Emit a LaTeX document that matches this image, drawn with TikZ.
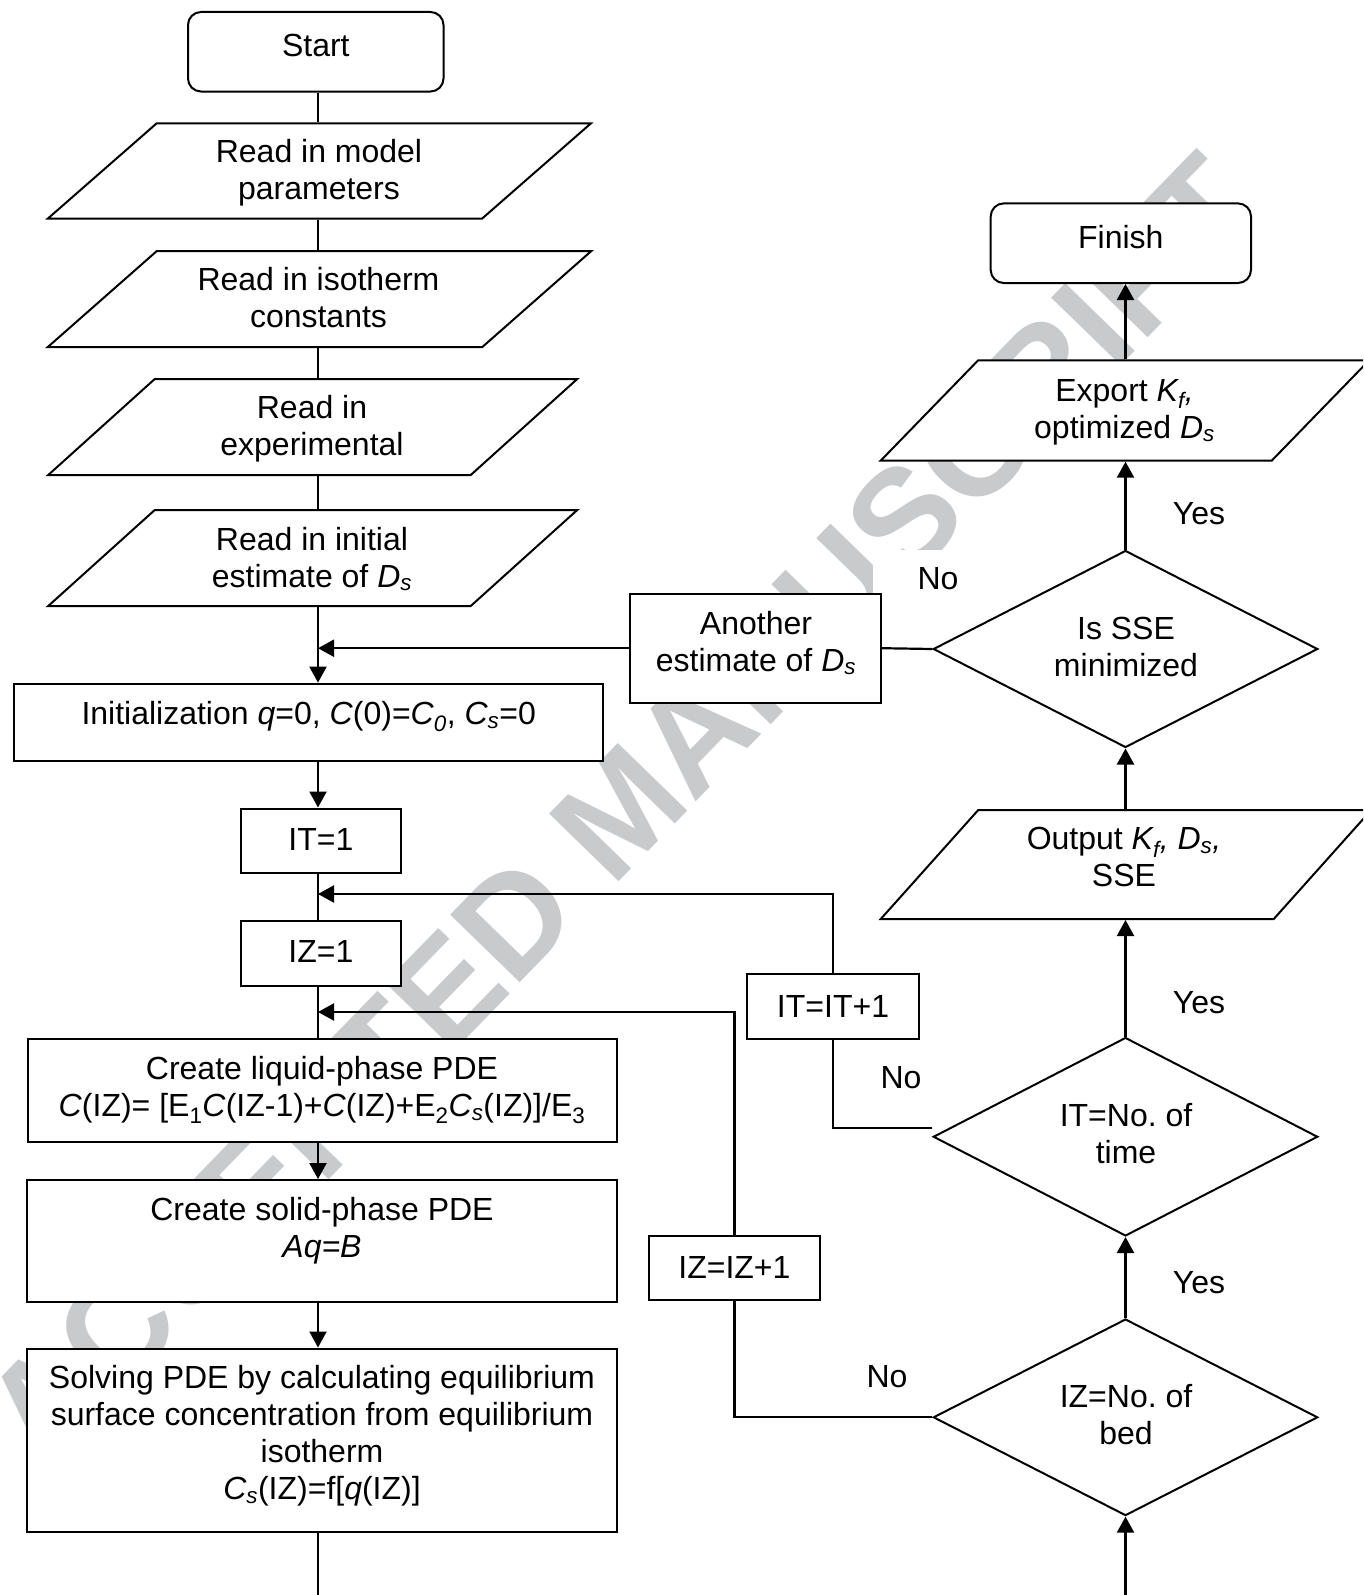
\documentclass[tikz,border=0pt]{standalone}
\usepackage{fontspec}
\setmainfont{Liberation Sans}
\usetikzlibrary{arrows.meta,shapes.geometric,calc}
\definecolor{wm}{RGB}{201,202,204}
\newcommand\paral[6]{%
  \draw[shp] ({#2-#4/2-#6/2},{#3+#5/2}) -- ({#2+#4/2-#6/2},{#3+#5/2}) -- ({#2+#4/2+#6/2},{#3-#5/2}) -- ({#2-#4/2+#6/2},{#3-#5/2}) -- cycle;
  \node[inner sep=0pt, outer sep=1pt, minimum width=10pt, minimum height=#5pt] (#1) at (#2,#3) {};
}
\begin{document}
\begin{tikzpicture}[x=1pt,y=-1pt,
  shp/.style={draw=black, line width=2pt, fill=white},
  boxs/.style={shp, rectangle, inner sep=0pt},
  rbox/.style={boxs, rounded corners=13pt},
  dia/.style={shp, diamond, inner sep=0pt},
  txt/.style={font=\fontsize{32}{37}\selectfont, align=center, inner sep=0pt},
  lbl/.style={txt, fill=white, inner sep=3pt},
  conn/.style={line width=2.2pt},
  arr/.style={conn, -{Triangle[length=16pt,width=17pt]}},
]
\useasboundingbox (0,0) rectangle (1363,1595);
\clip (0,0) rectangle (1363,1595);
\fill[white] (0,0) rectangle (1363,1595);

% watermark
\node[text=wm, font=\fontsize{141}{150}\selectfont\bfseries, rotate=45.8, inner sep=0pt] (wmark) at (621,810) {ACCEPTED MANUSCRIPT};

% labels (white boxes over the watermark)
\node[lbl] (yes1) at (1199,514) {Yes};
\node[lbl] (yes2) at (1199,1003) {Yes};
\node[lbl] (yes3) at (1199,1283) {Yes};
\node[lbl, minimum width=130pt, minimum height=58pt] (no1) at (938,579) {No};
\node[lbl] (no2) at (901,1078) {No};
\node[lbl] (no3) at (887,1377) {No};

% coordinates
\coordinate (cl) at (318,0);
\coordinate (bot) at (0,1605);
\coordinate (ity) at (0,894);
\coordinate (izy) at (0,1012);

% left column shapes
\node[rbox, minimum width=255.5pt, minimum height=79.5pt] (start) at (315.75,51.75) {};
\paral{p1}{319.35}{171}{434.3}{95.3}{108.9}
\paral{p2}{319.6}{299}{434.5}{96}{109}
\paral{p3}{312.75}{427}{422.5}{96}{106.5}
\paral{p4}{312.75}{558}{422.5}{96}{106.5}
\node[boxs, minimum width=589pt, minimum height=77.3pt] (init) at (308.7,722.25) {};
\node[boxs, minimum width=159.8pt, minimum height=64.2pt] (it1) at (320.9,840.6) {};
\node[boxs, minimum width=159.8pt, minimum height=64.2pt] (iz1) at (320.9,953.4) {};
\node[boxs, minimum width=589pt, minimum height=103.7pt] (liq) at (322.1,1090.45) {};
\node[boxs, minimum width=590pt, minimum height=122pt] (sol) at (322,1241) {};
\node[boxs, minimum width=590pt, minimum height=183.5pt] (slv) at (322,1440.25) {};

% middle shapes
\node[boxs, minimum width=251pt, minimum height=109pt] (another) at (755.7,648.2) {};
\node[boxs, minimum width=171.5pt, minimum height=64.2pt] (itp1) at (833,1006.5) {};
\node[boxs, minimum width=171.3pt, minimum height=64.3pt] (izp1) at (734.4,1267.9) {};

% right column shapes
\node[rbox, minimum width=260.3pt, minimum height=79.6pt] (finish) at (1120.85,243.2) {};
\paral{expo}{1124.9}{410.5}{391}{100.3}{97.4}
\node[dia, minimum width=384.5pt, minimum height=197pt] (ssed) at (1125.5,649) {};
\paral{outp}{1126}{864.5}{393}{109}{97.5}
\node[dia, minimum width=384.5pt, minimum height=198.5pt] (itd) at (1125.5,1136.75) {};
\node[dia, minimum width=384.5pt, minimum height=196.6pt] (izd) at (1125.5,1417.3) {};

% texts
\node[txt] (startT) at (315.8,45) {Start};
\node[txt] (p1T) at (319,173) {Read in model\\parameters};
\node[txt] (p2T) at (318.5,298) {Read in isotherm\\constants};
\node[txt] (p3T) at (312,429) {Read in\\experimental};
\node[txt] (p4T) at (312,559) {Read in initial\\estimate of \textit{D\textsubscript{s}}};
\node[txt] (initT) at (308.7,716.5) {Initialization \textit{q}=0, \textit{C}(0)=\textit{C\textsubscript{0}}, \textit{C\textsubscript{s}}=0};
\node[txt] (it1T) at (320.9,839.5) {IT=1};
\node[txt] (iz1T) at (320.9,951.5) {IZ=1};
\node[txt] (liqT) at (322,1090) {Create liquid-phase PDE\\\textit{C}(IZ)= [E\textsubscript{1}\textit{C}(IZ-1)+\textit{C}(IZ)+E\textsubscript{2}\textit{C\textsubscript{s}}(IZ)]/E\textsubscript{3}};
\node[txt] (solT) at (322,1231) {Create solid-phase PDE\\\textit{Aq=B}};
\node[txt] (slvT) at (322,1435.5) {Solving PDE by calculating equilibrium\\surface concentration from equilibrium\\isotherm\\\textit{C\textsubscript{s}}(IZ)=f[\textit{q}(IZ)]};
\node[txt] (anotherT) at (756,643) {Another\\estimate of \textit{D\textsubscript{s}}};
\node[txt] (itp1T) at (833,1006.5) {IT=IT+1};
\node[txt] (izp1T) at (734.4,1267.9) {IZ=IZ+1};
\node[txt] (finishT) at (1120.8,237) {Finish};
\node[txt] (expoT) at (1124.5,412) {Export \textit{K\textsubscript{f},}\\optimized \textit{D\textsubscript{s}}};
\node[txt] (sseT) at (1126,647) {Is SSE\\minimized};
\node[txt] (outpT) at (1124,857) {Output \textit{K\textsubscript{f}, D\textsubscript{s},}\\SSE};
\node[txt] (itdT) at (1126,1134) {IT=No.\ of\\time};
\node[txt] (izdT) at (1126,1415) {IZ=No.\ of\\bed};

% left column connectors
\draw[conn] (start.south -| cl) -- (p1.north -| cl);
\draw[conn] (p1.south -| cl) -- (p2.north -| cl);
\draw[conn] (p2.south -| cl) -- (p3.north -| cl);
\draw[conn] (p3.south -| cl) -- (p4.north -| cl);
\draw[arr] (p4.south -| cl) -- (init.north -| cl);
\draw[arr] (another.west) -- (another.west -| cl);
\draw[arr] (init.south -| cl) -- (it1.north -| cl);
\draw[conn] (it1.south -| cl) -- (iz1.north -| cl);
\draw[conn] (iz1.south -| cl) -- (liq.north -| cl);
\draw[arr] (liq.south -| cl) -- (sol.north -| cl);
\draw[arr] (sol.south -| cl) -- (slv.north -| cl);
\draw[conn] (slv.south -| cl) -- (bot -| cl);

% loops
\draw[conn] ([yshift=9pt]itd.west) -| (itp1.south);
\draw[arr] (itp1.north) |- (ity -| cl);
\draw[conn] (izd.west) -| (izp1.south);
\draw[arr] (izp1.north) |- (izy -| cl);

% right column connectors
\draw[arr] (bot -| izd.south) -- (izd.south);
\draw[arr] (izd.north) -- (itd.south);
\draw[arr] (itd.north) -- (outp.south -| itd.north);
\draw[arr] (outp.north -| ssed.south) -- (ssed.south);
\draw[arr] (ssed.north) -- (expo.south -| ssed.north);
\draw[arr] (expo.north -| ssed.north) -- (finish.south -| ssed.north);
\draw[conn] (ssed.west) -- (another.east);
\end{tikzpicture}
\end{document}
